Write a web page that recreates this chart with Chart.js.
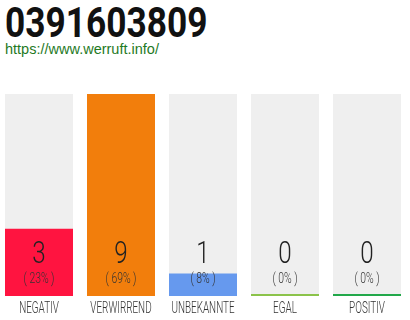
<!DOCTYPE html>
<html>
<head>
<meta charset="utf-8">
<script src="https://cdn.jsdelivr.net/npm/chart.js@4/dist/chart.umd.min.js"></script>
<style>
    html, body { margin: 0; padding: 0; background: #fff; }
    body { width: 410px; height: 320px; position: relative; overflow: hidden; }
    #title {
        position: absolute; left: 5px; top: 2px;
        font: 700 42px/42px Roboto, sans-serif; color: #111;
        transform: scaleX(0.84); transform-origin: left top; white-space: nowrap;
    }
    #url {
        position: absolute; left: 5px; top: 42px;
        font: 14.5px/15px "Liberation Sans", Arial, sans-serif; color: #1f7a1f;
        white-space: nowrap;
    }
    #wrap { position: absolute; left: -2px; top: 0; width: 410px; height: 320px; }
</style>
</head>
<body>
<div id="title">0391603809</div>
<div id="url">https://www.werruft.info/</div>
<div id="wrap"><canvas id="ratingChart" width="410" height="320"></canvas></div>
<script>
(function () {
    'use strict';

    // data
    var categories = ['NEGATIV', 'VERWIRREND', 'UNBEKANNTE', 'EGAL', 'POSITIV'];
    var counts = [3, 9, 1, 0, 0];
    var percents = [23, 69, 8, 0, 0];
    var trackMax = [9, 9, 9, 9, 9];

    var barColors = ['#ff1440', '#f27e0c', '#6699ee', '#8bc34a', '#22a84a'];

    // draws text squeezed horizontally (the original uses a narrow font)
    function drawNarrow(ctx, text, x, y, font, sx, color) {
        ctx.save();
        ctx.font = font;
        ctx.fillStyle = color;
        ctx.textAlign = 'center';
        ctx.textBaseline = 'alphabetic';
        ctx.translate(x, y);
        ctx.scale(sx, 1);
        ctx.fillText(text, 0, 0);
        ctx.restore();
    }

    var barLabels = {
        id: 'barLabels',
        afterDatasetsDraw: function (chart) {
            var ctx = chart.ctx;
            var meta = chart.getDatasetMeta(0);
            meta.data.forEach(function (bar, i) {
                drawNarrow(ctx, String(counts[i]), bar.x, 263, '300 31px Roboto', 0.78, '#222');
                drawNarrow(ctx, '( ' + percents[i] + '% )', bar.x, 283, '300 14px Roboto', 0.74, '#333');
                drawNarrow(ctx, categories[i], bar.x, 313, '300 16.5px Roboto', 0.6, '#333');
            });
        }
    };

    new Chart(document.getElementById('ratingChart'), {
        type: 'bar',
        data: {
            labels: categories,
            datasets: [
                {
                    data: counts,
                    backgroundColor: barColors,
                    minBarLength: 2,
                    borderWidth: 0,
                },
                {
                    data: trackMax,
                    backgroundColor: '#efefef',
                    borderWidth: 0,
                },
            ],
        },
        options: {
            responsive: false,
            animation: false,
            events: [],
            datasets: { bar: { grouped: false, categoryPercentage: 1, barPercentage: 68 / 82 } },
            layout: { padding: { top: 94, bottom: 24, left: 0, right: 0 } },
            plugins: { legend: { display: false }, tooltip: { enabled: false } },
            scales: {
                x: { display: false },
                y: { display: false, min: 0, max: 9 },
            },
        },
        plugins: [barLabels],
    });
})();
</script>
</body>
</html>
